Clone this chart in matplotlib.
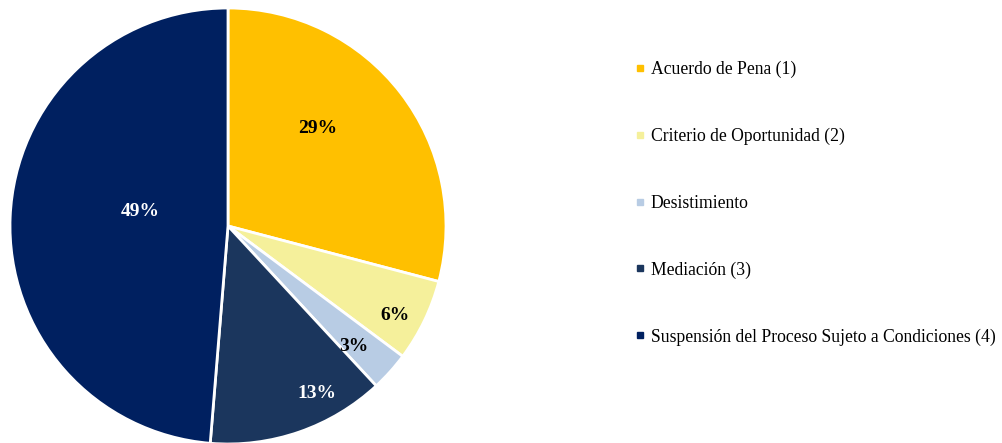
import numpy as np
import matplotlib.pyplot as plt
from matplotlib.lines import Line2D

plt.rcParams['font.family'] = ['Liberation Serif', 'DejaVu Serif']

categorias = ['Acuerdo de Pena (1)', 'Criterio de Oportunidad (2)', 'Desistimiento',
              'Mediación (3)', 'Suspensión del Proceso Sujeto a Condiciones (4)']
valores = [29.1, 6.1, 2.9, 13.2, 48.7]
etiquetas = ['29%', '6%', '3%', '13%', '49%']
colores = ['#FFC000', '#F5F09B', '#B8CCE4', '#1B365D', '#002060']
color_texto = ['black', 'black', 'black', 'white', 'white']
# posicion de las etiquetas: radio relativo y giro (grados, sentido horario) respecto al centro de la porcion
dist_texto = [0.61, 0.87, 0.80, 0.87, 0.41]
giro_texto = [-9.8, 2.5, 1.9, -8.8, 7.2]

fig = plt.figure(figsize=(10.03, 4.43), dpi=100)
ax = fig.add_axes([10 / 1003, -1 / 443, 436 / 1003, 436 / 443])
wedges, _ = ax.pie(valores, colors=colores, startangle=90, counterclock=False,
                   wedgeprops=dict(edgecolor='white', linewidth=2))
ax.set_xlim(-1, 1)
ax.set_ylim(-1, 1)
ax.set_aspect('equal')

# etiquetas de porcentaje
for w, txt, c, d, g in zip(wedges, etiquetas, color_texto, dist_texto, giro_texto):
    ang = np.deg2rad((w.theta1 + w.theta2) / 2 - g)
    ax.text(d * np.cos(ang), d * np.sin(ang), txt, ha='center', va='center',
            fontsize=14, fontweight='bold', color=c)

handles = [Line2D([], [], marker='s', linestyle='none', markersize=5,
                  markerfacecolor=c, markeredgecolor=c) for c in colores]
fig.legend(handles, categorias, loc='upper left', bbox_to_anchor=(628 / 1003, 1 - 54 / 443),
           frameon=False, fontsize=12.7, handlelength=0.6, handletextpad=0.3,
           labelspacing=2.81, borderaxespad=0)

fig.savefig('out.png', dpi=100)
